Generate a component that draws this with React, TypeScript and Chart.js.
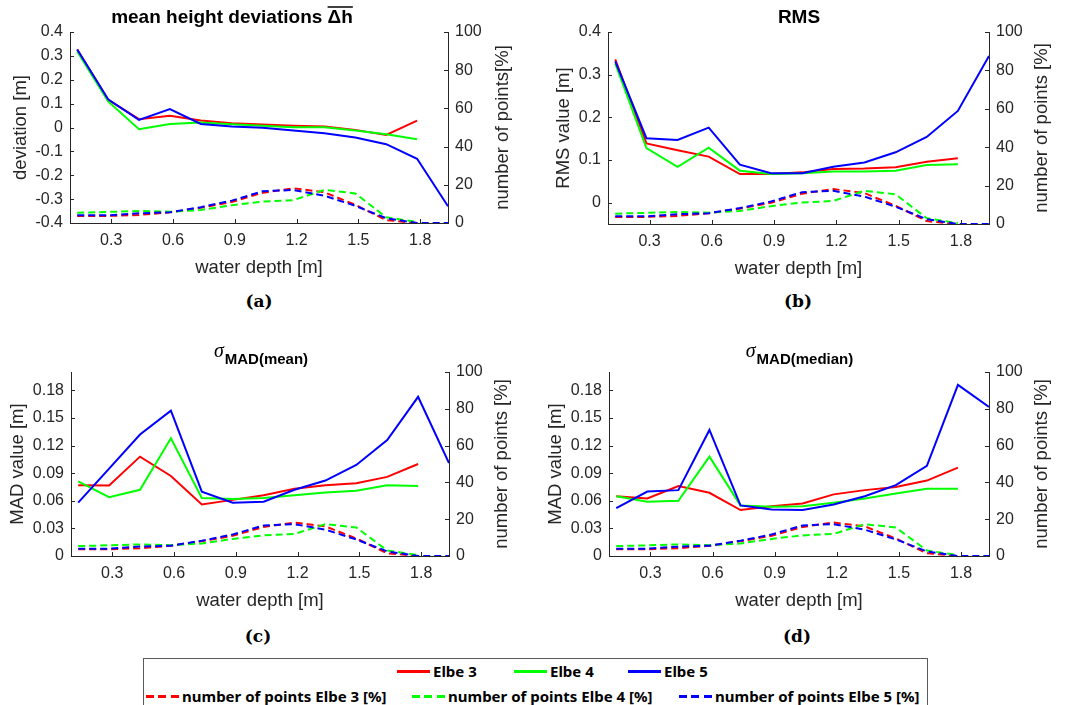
import React, { useEffect, useRef } from "react";
import { Chart, registerables } from "chart.js";

Chart.register(...registerables);

// ---------------- data ----------------
const depth = [0.135, 0.285, 0.435, 0.585, 0.735, 0.885, 1.035, 1.185, 1.335, 1.485, 1.635, 1.785, 1.935];
const depthTicks = [0.3, 0.6, 0.9, 1.2, 1.5, 1.8];
const percentTicks = [0, 20, 40, 60, 80, 100];
const deviationTicks = [-0.4, -0.3, -0.2, -0.1, 0, 0.1, 0.2, 0.3, 0.4];
const rmsTicks = [0, 0.1, 0.2, 0.3, 0.4];
const madTicks = [0, 0.03, 0.06, 0.09, 0.12, 0.15, 0.18];

const seriesNames = ["Elbe 3", "Elbe 4", "Elbe 5"];
const pointsNames = [
  "number of points Elbe 3 [%]",
  "number of points Elbe 4 [%]",
  "number of points Elbe 5 [%]",
];

const pointsElbe3 = [3.7, 3.7, 4.2, 5.6, 8.0, 11.0, 15.8, 18.2, 16.1, 9.5, 1.5, 0];
const pointsElbe4 = [5.4, 5.8, 6.3, 5.9, 6.8, 9.3, 11.2, 12.0, 17.3, 15.5, 3.0, 0.5];
const pointsElbe5 = [4.0, 4.0, 5.1, 5.6, 8.3, 11.7, 16.6, 17.3, 14.3, 9.0, 2.5, 0, 0];

const meanElbe3 = [0.327, 0.116, 0.035, 0.049, 0.029, 0.018, 0.0125, 0.007, 0.004, -0.01, -0.031, 0.029];
const meanElbe4 = [0.318, 0.109, -0.007, 0.015, 0.021, 0.014, 0.007, 0.001, 0.001, -0.013, -0.028, -0.049];
const meanElbe5 = [0.327, 0.118, 0.032, 0.077, 0.015, 0.004, -0.001, -0.013, -0.024, -0.042, -0.07, -0.131, -0.33];

const rmsElbe3 = [0.336, 0.139, 0.123, 0.108, 0.067, 0.067, 0.071, 0.079, 0.08, 0.083, 0.096, 0.104];
const rmsElbe4 = [0.326, 0.128, 0.084, 0.129, 0.075, 0.067, 0.069, 0.073, 0.073, 0.075, 0.088, 0.09];
const rmsElbe5 = [0.331, 0.151, 0.147, 0.176, 0.089, 0.069, 0.069, 0.084, 0.094, 0.118, 0.154, 0.215, 0.344];

const madMeanElbe3 = [0.077, 0.0766, 0.108, 0.087, 0.056, 0.061, 0.066, 0.073, 0.077, 0.079, 0.086, 0.1];
const madMeanElbe4 = [0.081, 0.064, 0.072, 0.128, 0.063, 0.062, 0.063, 0.066, 0.069, 0.071, 0.077, 0.076];
const madMeanElbe5 = [0.058, 0.095, 0.132, 0.158, 0.07, 0.058, 0.059, 0.072, 0.082, 0.099, 0.126, 0.173, 0.101];

const madMedianElbe3 = [0.065, 0.0625, 0.076, 0.0687, 0.05, 0.054, 0.057, 0.067, 0.0716, 0.075, 0.082, 0.096];
const madMedianElbe4 = [0.065, 0.059, 0.06, 0.108, 0.055, 0.0535, 0.054, 0.058, 0.0625, 0.068, 0.073, 0.073];
const madMedianElbe5 = [0.052, 0.07, 0.0716, 0.137, 0.055, 0.0506, 0.05, 0.056, 0.065, 0.077, 0.098, 0.186, 0.162];

const xTitle = "water depth [m]";

// ---------------- styles ----------------
const COLORS = ["#ff0000", "#00ff00", "#0000ff"];
const AXIS = "#262626";
const SANS = "'Liberation Sans', Arial, Helvetica, sans-serif";
const TICK_SIZE = 16;
const LABEL_SIZE = 18.5;

type Area = { l: number; r: number; t: number; b: number };
type Panel = {
  key: string;
  left: number;
  top: number;
  width: number;
  height: number;
  area: Area;
  yMin: number;
  yMax: number;
  yTicks: number[];
  yTitle: string;
  yTitleX: number;
  rightTitle: string;
  rightTitleX: number;
  values: number[][];
  drawTitle: (ctx: CanvasRenderingContext2D) => void;
};

const fmt = (v: number) => String(Math.round(v * 1000) / 1000);

function drawOverlineTitle(ctx: CanvasRenderingContext2D, cx: number, base: number) {
  const main = "mean height deviations ";
  const over = "\u0394h";
  ctx.font = `bold 19px ${SANS}`;
  ctx.fillStyle = "#000";
  ctx.textAlign = "left";
  ctx.textBaseline = "alphabetic";
  const w1 = ctx.measureText(main).width;
  const w2 = ctx.measureText(over).width;
  const x0 = cx - (w1 + w2) / 2;
  ctx.fillText(main, x0, base);
  ctx.fillText(over, x0 + w1, base);
  ctx.strokeStyle = "#000";
  ctx.lineWidth = 1.5;
  ctx.beginPath();
  ctx.moveTo(x0 + w1, base - 16);
  ctx.lineTo(x0 + w1 + w2, base - 16);
  ctx.stroke();
}

function drawPlainTitle(text: string) {
  return (ctx: CanvasRenderingContext2D, cx: number, base: number) => {
    ctx.font = `bold 19px ${SANS}`;
    ctx.fillStyle = "#000";
    ctx.textAlign = "center";
    ctx.textBaseline = "alphabetic";
    ctx.fillText(text, cx, base);
  };
}

function drawSigmaTitle(sub: string) {
  return (ctx: CanvasRenderingContext2D, cx: number, base: number) => {
    const sigFont = `italic 20px 'Liberation Serif', serif`;
    const subFont = `bold 15px ${SANS}`;
    ctx.font = sigFont;
    const w1 = ctx.measureText("\u03c3").width;
    ctx.font = subFont;
    const w2 = ctx.measureText(sub).width;
    const x0 = cx - (w1 + 1 + w2) / 2;
    ctx.fillStyle = "#000";
    ctx.textAlign = "left";
    ctx.textBaseline = "alphabetic";
    ctx.font = sigFont;
    ctx.fillText("\u03c3", x0, base);
    ctx.font = subFont;
    ctx.fillText(sub, x0 + w1 + 1, base + 7);
  };
}

const panels: Panel[] = [
  {
    key: "a",
    left: 0,
    top: 0,
    width: 533,
    height: 285,
    area: { l: 70, r: 448, t: 32, b: 223 },
    yMin: -0.4,
    yMax: 0.4,
    yTicks: deviationTicks,
    yTitle: "deviation [m]",
    yTitleX: 21,
    rightTitle: "number of points[%]",
    rightTitleX: 502.5,
    values: [meanElbe3, meanElbe4, meanElbe5],
    drawTitle: (ctx) => drawOverlineTitle(ctx, 232, 23),
  },
  {
    key: "b",
    left: 533,
    top: 0,
    width: 534,
    height: 285,
    area: { l: 75, r: 456, t: 32, b: 224 },
    yMin: -0.05,
    yMax: 0.4,
    yTicks: rmsTicks,
    yTitle: "RMS value [m]",
    yTitleX: 31,
    rightTitle: "number of points [%]",
    rightTitleX: 509,
    values: [rmsElbe3, rmsElbe4, rmsElbe5],
    drawTitle: (ctx) => drawPlainTitle("RMS")(ctx, 266, 23),
  },
  {
    key: "c",
    left: 0,
    top: 330,
    width: 533,
    height: 285,
    area: { l: 71, r: 449, t: 42, b: 226 },
    yMin: 0,
    yMax: 0.2,
    yTicks: madTicks,
    yTitle: "MAD value [m]",
    yTitleX: 18,
    rightTitle: "number of points [%]",
    rightTitleX: 502,
    values: [madMeanElbe3, madMeanElbe4, madMeanElbe5],
    drawTitle: (ctx) => drawSigmaTitle("MAD(mean)")(ctx, 261, 27),
  },
  {
    key: "d",
    left: 533,
    top: 330,
    width: 534,
    height: 285,
    area: { l: 76, r: 456, t: 42, b: 226 },
    yMin: 0,
    yMax: 0.2,
    yTicks: madTicks,
    yTitle: "MAD value [m]",
    yTitleX: 22.5,
    rightTitle: "number of points [%]",
    rightTitleX: 509,
    values: [madMedianElbe3, madMedianElbe4, madMedianElbe5],
    drawTitle: (ctx) => drawSigmaTitle("MAD(median)")(ctx, 266.5, 27),
  },
];

const pointSeries = [pointsElbe3, pointsElbe4, pointsElbe5];

function toXY(vals: number[]) {
  return vals.map((y, i) => ({ x: depth[i], y }));
}

function decorPlugin(p: Panel) {
  return {
    id: "decor_" + p.key,
    afterDraw(chart: any) {
      const ctx: CanvasRenderingContext2D = chart.ctx;
      const a = chart.chartArea;
      ctx.save();
      ctx.strokeStyle = AXIS;
      ctx.lineWidth = 1;
      ctx.beginPath();
      const sx = chart.scales.x;
      for (const t of sx.ticks) {
        const px = Math.round(sx.getPixelForValue(t.value)) + 0.5;
        ctx.moveTo(px, a.bottom);
        ctx.lineTo(px, a.bottom - 4);
      }
      const sy = chart.scales.y;
      for (const t of sy.ticks) {
        const py = Math.round(sy.getPixelForValue(t.value)) + 0.5;
        ctx.moveTo(a.left, py);
        ctx.lineTo(a.left + 4, py);
      }
      const sr = chart.scales.y1;
      for (const t of sr.ticks) {
        const py = Math.round(sr.getPixelForValue(t.value)) + 0.5;
        ctx.moveTo(a.right, py);
        ctx.lineTo(a.right - 4, py);
      }
      ctx.stroke();

      // right axis title (reads bottom to top)
      ctx.save();
      ctx.font = `${LABEL_SIZE}px ${SANS}`;
      ctx.fillStyle = AXIS;
      ctx.textAlign = "center";
      ctx.textBaseline = "middle";
      ctx.translate(p.rightTitleX, (a.top + a.bottom) / 2);
      ctx.rotate(-Math.PI / 2);
      ctx.fillText(p.rightTitle, 0, 0);
      ctx.restore();

      p.drawTitle(ctx);
      ctx.restore();
    },
  };
}

function buildConfig(p: Panel): any {
  const lineH = LABEL_SIZE * 1.2;
  const xH = 45 + lineH / 2;
  const datasets: any[] = [];
  for (let i = 2; i >= 0; i--) {
    datasets.push({
      label: seriesNames[i],
      data: toXY(p.values[i]),
      borderColor: COLORS[i],
      backgroundColor: COLORS[i],
      borderWidth: 2,
      pointRadius: 0,
      tension: 0,
      fill: false,
      yAxisID: "y",
    });
  }
  for (let i = 2; i >= 0; i--) {
    datasets.push({
      label: pointsNames[i],
      data: toXY(pointSeries[i]),
      borderColor: COLORS[i],
      backgroundColor: COLORS[i],
      borderWidth: 2,
      borderDash: [7, 4],
      pointRadius: 0,
      tension: 0,
      fill: false,
      yAxisID: "y1",
    });
  }
  const tickFont = { family: SANS, size: TICK_SIZE };
  const labelFont = { family: SANS, size: LABEL_SIZE };
  return {
    type: "line",
    data: { datasets },
    options: {
      animation: false,
      responsive: false,
      devicePixelRatio: 1,
      layout: {
        padding: {
          left: 0,
          right: 0,
          top: p.area.t,
          bottom: p.height - p.area.b - xH,
        },
      },
      plugins: {
        legend: { display: false },
        tooltip: { enabled: false },
        title: { display: false },
      },
      scales: {
        x: {
          type: "linear",
          position: "bottom",
          min: 0.1,
          max: 1.935,
          afterBuildTicks: (s: any) => {
            s.ticks = depthTicks.map((v) => ({ value: v }));
          },
          afterFit: (s: any) => {
            s.height = xH;
          },
          grid: { display: false, drawTicks: false },
          border: { display: true, color: AXIS, width: 1 },
          ticks: {
            autoSkip: false,
            maxRotation: 0,
            font: tickFont,
            color: AXIS,
            padding: 8,
            callback: (v: number) => fmt(v),
          },
          title: {
            display: true,
            text: xTitle,
            font: labelFont,
            color: AXIS,
            padding: { top: 0, bottom: 0 },
          },
        },
        y: {
          type: "linear",
          position: "left",
          min: p.yMin,
          max: p.yMax,
          afterBuildTicks: (s: any) => {
            s.ticks = p.yTicks.map((v) => ({ value: v }));
          },
          afterFit: (s: any) => {
            s.width = p.area.l;
          },
          grid: { display: false, drawTicks: false },
          border: { display: true, color: AXIS, width: 1 },
          ticks: {
            autoSkip: false,
            font: tickFont,
            color: AXIS,
            padding: 7,
            callback: (v: number) => fmt(v),
          },
          title: {
            display: true,
            text: p.yTitle,
            font: labelFont,
            color: AXIS,
            padding: { top: p.yTitleX - lineH / 2, bottom: 0 },
          },
        },
        y1: {
          type: "linear",
          position: "right",
          min: 0,
          max: 100,
          afterBuildTicks: (s: any) => {
            s.ticks = percentTicks.map((v) => ({ value: v }));
          },
          afterFit: (s: any) => {
            s.width = p.width - p.area.r;
          },
          grid: { display: false, drawTicks: false },
          border: { display: true, color: AXIS, width: 1 },
          ticks: {
            autoSkip: false,
            font: tickFont,
            color: AXIS,
            padding: 7,
            callback: (v: number) => fmt(v),
          },
          title: { display: false },
        },
      },
    },
    plugins: [decorPlugin(p)],
  };
}

function PanelChart({ p }: { p: Panel }) {
  const ref = useRef<HTMLCanvasElement | null>(null);
  useEffect(() => {
    if (!ref.current) return;
    const chart = new Chart(ref.current, buildConfig(p));
    return () => chart.destroy();
  }, [p]);
  return (
    <div
      style={{
        position: "absolute",
        left: p.left,
        top: p.top,
        width: p.width,
        height: p.height,
      }}
    >
      <canvas
        ref={ref}
        width={p.width}
        height={p.height}
        style={{ width: p.width, height: p.height, display: "block" }}
      />
    </div>
  );
}

const subLabels = [
  { text: "(a)", x: 259, y: 301 },
  { text: "(b)", x: 798, y: 301 },
  { text: "(c)", x: 258, y: 636 },
  { text: "(d)", x: 797, y: 636 },
];

const legendRow1 = [
  { idx: 0, x: 397, y: 671 },
  { idx: 1, x: 514, y: 671 },
  { idx: 2, x: 628, y: 671 },
];
const legendRow2 = [
  { idx: 0, x: 146, y: 696 },
  { idx: 1, x: 412, y: 696 },
  { idx: 2, x: 679, y: 696 },
];

const LEGEND_FONT = "'Noto Sans', 'Open Sans', sans-serif";

function LegendItem({ x, y, color, dashed, text }: any) {
  const lineStyle: React.CSSProperties = dashed
    ? {
        background: `repeating-linear-gradient(to right, ${color} 0px, ${color} 8px, transparent 8px, transparent 12.5px)`,
      }
    : { background: color };
  return (
    <div
      style={{
        position: "absolute",
        left: x,
        top: y - 10,
        height: 20,
        display: "flex",
        alignItems: "center",
        whiteSpace: "nowrap",
      }}
    >
      <div style={{ width: 33, height: 3, ...lineStyle }} />
      <span
        style={{
          marginLeft: 3,
          fontFamily: LEGEND_FONT,
          fontWeight: 700,
          fontSize: 15,
          color: "#000",
          lineHeight: "20px",
        }}
      >
        {text}
      </span>
    </div>
  );
}

export default function App() {
  return (
    <div
      style={{
        position: "absolute",
        left: 0,
        top: 0,
        width: 1067,
        height: 705,
        overflow: "hidden",
        background: "#fff",
      }}
    >
      {panels.map((p) => (
        <PanelChart key={p.key} p={p} />
      ))}
      {subLabels.map((s) => (
        <div
          key={s.text}
          style={{
            position: "absolute",
            left: s.x,
            top: s.y,
            transform: "translate(-50%, -50%)",
            fontFamily: "'DejaVu Serif', serif",
            fontWeight: 700,
            fontSize: 17,
            color: "#000",
            whiteSpace: "nowrap",
          }}
        >
          {s.text}
        </div>
      ))}
      <div
        style={{
          position: "absolute",
          left: 143,
          top: 658,
          width: 783,
          height: 70,
          border: "1px solid #5a5a5a",
          background: "#fff",
        }}
      />
      {legendRow1.map((it) => (
        <LegendItem
          key={"r1" + it.idx}
          x={it.x}
          y={it.y}
          color={COLORS[it.idx]}
          dashed={false}
          text={seriesNames[it.idx]}
        />
      ))}
      {legendRow2.map((it) => (
        <LegendItem
          key={"r2" + it.idx}
          x={it.x}
          y={it.y}
          color={COLORS[it.idx]}
          dashed={true}
          text={pointsNames[it.idx]}
        />
      ))}
    </div>
  );
}
